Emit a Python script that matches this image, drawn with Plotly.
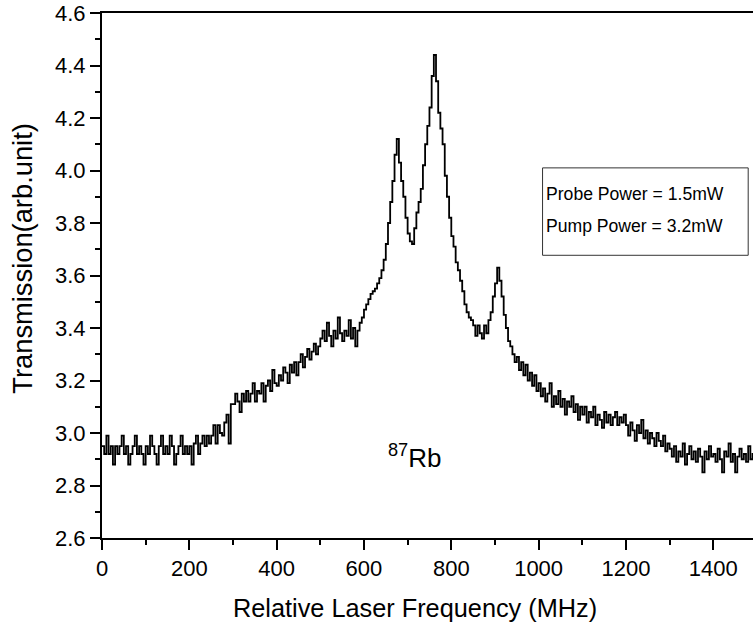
import plotly.graph_objects as go

STEP_MHZ = 5

# Transmission values (arb. unit), 100 MHz per list
t_0000 = [2.95, 2.92, 2.99, 2.92, 2.95, 2.88, 2.95, 2.92, 2.95, 2.99, 2.92, 2.95, 2.88, 2.92, 2.95, 2.99, 2.92, 2.95, 2.92, 2.88]
t_0100 = [2.95, 2.92, 2.99, 2.95, 2.92, 2.88, 2.95, 2.99, 2.92, 2.95, 2.92, 2.99, 2.95, 2.88, 2.92, 2.95, 2.99, 2.92, 2.95, 2.92]
t_0200 = [2.95, 2.88, 2.96, 2.99, 2.92, 2.96, 2.99, 2.95, 2.99, 2.96, 2.99, 3.03, 2.96, 3.03, 3.00, 2.99, 3.04, 3.07, 2.96, 3.11]
t_0300 = [3.11, 3.15, 3.12, 3.08, 3.15, 3.12, 3.16, 3.12, 3.15, 3.19, 3.12, 3.16, 3.15, 3.19, 3.12, 3.18, 3.20, 3.16, 3.24, 3.19]
t_0400 = [3.18, 3.22, 3.20, 3.25, 3.23, 3.19, 3.26, 3.23, 3.27, 3.22, 3.27, 3.30, 3.25, 3.29, 3.32, 3.28, 3.31, 3.34, 3.30, 3.33]
t_0500 = [3.36, 3.39, 3.35, 3.42, 3.37, 3.33, 3.39, 3.36, 3.44, 3.38, 3.35, 3.39, 3.37, 3.43, 3.36, 3.40, 3.33, 3.39, 3.42, 3.44]
t_0600 = [3.47, 3.49, 3.51, 3.53, 3.54, 3.55, 3.57, 3.59, 3.62, 3.66, 3.72, 3.80, 3.88, 3.96, 4.06, 4.12, 4.03, 3.96, 3.90, 3.82]
t_0700 = [3.76, 3.73, 3.72, 3.78, 3.84, 3.88, 3.93, 4.02, 4.10, 4.17, 4.24, 4.36, 4.44, 4.34, 4.22, 4.16, 4.10, 3.98, 3.90, 3.82]
t_0800 = [3.75, 3.71, 3.65, 3.62, 3.58, 3.54, 3.49, 3.46, 3.44, 3.43, 3.41, 3.37, 3.41, 3.38, 3.36, 3.41, 3.38, 3.43, 3.46, 3.52]
t_0900 = [3.57, 3.63, 3.58, 3.52, 3.45, 3.40, 3.35, 3.33, 3.30, 3.27, 3.29, 3.24, 3.27, 3.22, 3.26, 3.20, 3.23, 3.18, 3.22, 3.16]
t_1000 = [3.19, 3.14, 3.17, 3.12, 3.15, 3.19, 3.10, 3.14, 3.11, 3.16, 3.10, 3.13, 3.07, 3.12, 3.10, 3.14, 3.08, 3.11, 3.05, 3.10]
t_1100 = [3.07, 3.10, 3.04, 3.08, 3.06, 3.10, 3.03, 3.07, 3.05, 3.02, 3.08, 3.04, 3.07, 3.03, 3.06, 3.08, 3.03, 3.06, 3.04, 3.07]
t_1200 = [3.03, 2.99, 3.04, 3.01, 2.97, 3.03, 3.00, 3.05, 2.98, 3.01, 2.96, 3.00, 2.98, 2.95, 3.00, 2.97, 2.95, 2.99, 2.93, 2.96]
t_1300 = [2.94, 2.91, 2.95, 2.89, 2.93, 2.91, 2.96, 2.88, 2.92, 2.95, 2.90, 2.93, 2.89, 2.94, 2.91, 2.85, 2.93, 2.90, 2.95, 2.91]
t_1400 = [2.92, 2.89, 2.94, 2.90, 2.85, 2.93, 2.91, 2.96, 2.89, 2.92, 2.85, 2.91, 2.94, 2.90, 2.92, 2.89, 2.95, 2.90, 2.92, 2.89]

transmission = (t_0000 + t_0100 + t_0200 + t_0300 + t_0400 + t_0500 + t_0600 + t_0700
                + t_0800 + t_0900 + t_1000 + t_1100 + t_1200 + t_1300 + t_1400)
frequency = [i * STEP_MHZ for i in range(len(transmission))]

x_ticks = [0, 200, 400, 600, 800, 1000, 1200, 1400]
y_ticks = [2.6, 2.8, 3.0, 3.2, 3.4, 3.6, 3.8, 4.0, 4.2, 4.4, 4.6]
box_lines = ["Probe Power = 1.5mW", "Pump Power = 3.2mW"]
isotope_label = "<sup>87</sup>Rb"
x_title = "Relative Laser Frequency (MHz)"
y_title = "Transmission(arb.unit)"

FONT = "Liberation Sans, Arial, sans-serif"

fig = go.Figure()
fig.add_trace(go.Scatter(x=frequency, y=transmission, mode="lines",
                         line=dict(color="black", width=1.8, shape="hv"), showlegend=False,
                         hoverinfo="skip"))

axis_common = dict(showgrid=False, zeroline=False, showline=True, linecolor="black",
                   linewidth=2, ticks="outside", ticklen=10, tickwidth=2, tickcolor="black",
                   automargin=False, ticklabeloverflow="allow",
                   tickfont=dict(family=FONT, size=22, color="black"))

fig.update_xaxes(range=[0, 1491], tickvals=x_ticks, ticktext=[str(v) for v in x_ticks],
                 mirror=True,
                 minor=dict(ticks="outside", ticklen=5, tickwidth=2, tickcolor="black", dtick=100, tick0=0),
                 **axis_common)
fig.update_yaxes(range=[2.6, 4.6], tickvals=y_ticks, ticktext=[f"{v:.1f}" for v in y_ticks],
                 minor=dict(ticks="outside", ticklen=5, tickwidth=2, tickcolor="black", dtick=0.1, tick0=2.6),
                 **axis_common)

# axis titles
fig.add_annotation(x=0.481, y=0, xref="paper", yref="paper", yshift=-70, text=x_title,
                   showarrow=False, xanchor="center", yanchor="middle",
                   font=dict(family=FONT, size=25.3, color="black"))
fig.add_annotation(x=0, y=0.532, xref="paper", yref="paper", xshift=-79, text=y_title,
                   textangle=-90, showarrow=False, xanchor="center", yanchor="middle",
                   font=dict(family=FONT, size=27.3, color="black"))

# text box
fig.add_shape(type="rect", xref="x", yref="y", x0=1009, x1=1480, y0=3.677, y1=4.01,
              line=dict(color="#333333", width=1), fillcolor="rgba(0,0,0,0)")
for txt, yv in zip(box_lines, [3.912, 3.788]):
    fig.add_annotation(x=1012, y=yv, xref="x", yref="y", text=txt, showarrow=False,
                       xanchor="left", yanchor="middle",
                       font=dict(family=FONT, size=17.6, color="black"))

fig.add_annotation(x=716, y=2.84, xref="x", yref="y", text=isotope_label, showarrow=False,
                   xanchor="center", yanchor="bottom",
                   font=dict(family=FONT, size=26, color="black"))

fig.update_layout(width=753, height=628, plot_bgcolor="white", paper_bgcolor="white",
                  margin=dict(l=102, r=0, t=13, b=90))

# remove the page's default body margin so the figure fills the window exactly
fig.write_html("out.html", config={"displayModeBar": False},
               post_script="document.body.style.margin='0';document.body.style.overflow='hidden';")
